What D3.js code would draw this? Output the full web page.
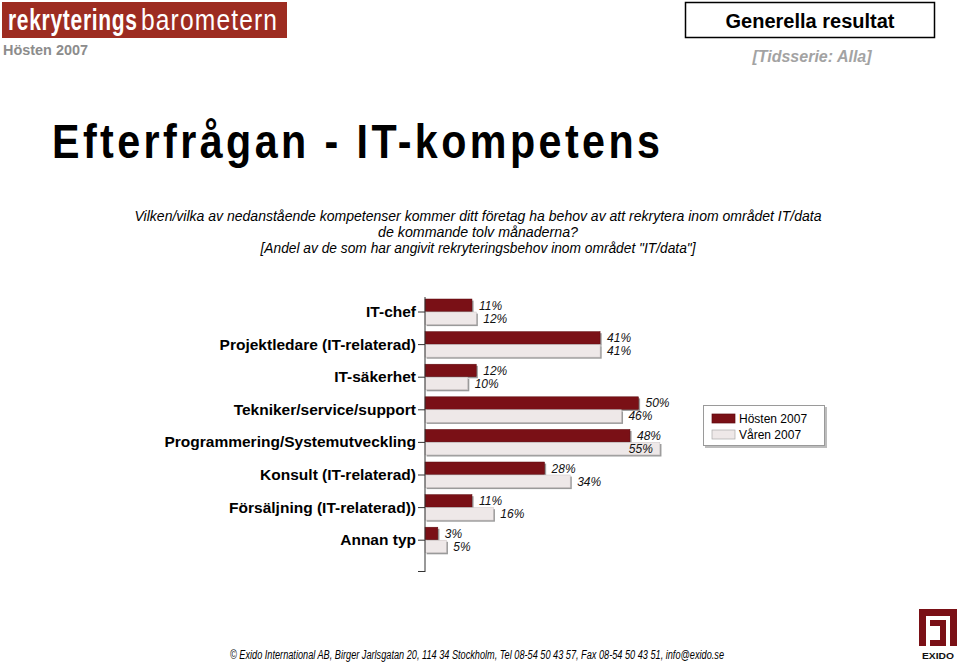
<!DOCTYPE html>
<html>
<head>
<meta charset="utf-8">
<script src="https://cdn.jsdelivr.net/npm/d3@7"></script>
<style>
  html, body { margin: 0; padding: 0; background: #fff; }
  svg { display: block; }
  text { font-family: "Liberation Sans", Arial, Helvetica, sans-serif; }
</style>
</head>
<body>
<svg id="chart" width="959" height="662"></svg>
<script>
const categories = [
  "IT-chef",
  "Projektledare (IT-relaterad)",
  "IT-säkerhet",
  "Tekniker/service/support",
  "Programmering/Systemutveckling",
  "Konsult (IT-relaterad)",
  "Försäljning (IT-relaterad))",
  "Annan typ"
];
const hosten2007 = [11, 41, 12, 50, 48, 28, 11, 3];
const varen2007 = [12, 41, 10, 46, 55, 34, 16, 5];
const seriesNames = ["Hösten 2007", "Våren 2007"];
const subtitleLines = [
  "Vilken/vilka av nedanstående kompetenser kommer ditt företag ha behov av att rekrytera inom området IT/data",
  "de kommande tolv månaderna?",
  "[Andel av de som har angivit rekryteringsbehov inom området \"IT/data\"]"
];

const svg = d3.select("#chart");
const darkC = "#7a1016", lightC = "#eee8e8", shadowC = "#9a9a9a";

function condensed(parent, x, y, width, sx, attrs, str) {
  const gg = parent.append("g").attr("transform", `translate(${x},${y}) scale(${sx},1)`);
  const t = gg.append("text").attr("x", 0).attr("y", 0)
    .attr("textLength", width / sx).attr("lengthAdjust", "spacing");
  Object.entries(attrs).forEach(([k, v]) => t.attr(k, v));
  t.text(str);
  return t;
}

// ---------- Header ----------
svg.append("rect").attr("x", 2).attr("y", 2).attr("width", 285).attr("height", 36).attr("fill", "#9d2c21");
condensed(svg, 8, 30, 129, 0.7, { "font-size": 30, "font-weight": "bold", "fill": "#fff" }, "rekryterings");
condensed(svg, 141, 30, 136, 0.82, { "font-size": 30, "fill": "#fff" }, "barometern");
svg.append("text").attr("x", 3).attr("y", 55).attr("fill", "#8c8c8c")
  .attr("font-size", 15).attr("font-weight", "bold")
  .attr("textLength", 85).attr("lengthAdjust", "spacingAndGlyphs").text("Hösten 2007");

svg.append("rect").attr("x", 685.5).attr("y", 2.5).attr("width", 249).attr("height", 35)
  .attr("fill", "#fff").attr("stroke", "#000").attr("stroke-width", 1.5);
svg.append("text").attr("x", 810).attr("y", 28).attr("text-anchor", "middle")
  .attr("font-size", 20).attr("font-weight", "bold").attr("fill", "#000")
  .text("Generella resultat");
svg.append("text").attr("x", 812).attr("y", 62).attr("text-anchor", "middle")
  .attr("font-size", 16).attr("font-weight", "bold").attr("font-style", "italic").attr("fill", "#a3a3a3")
  .text("[Tidsserie: Alla]");

// ---------- Title ----------
condensed(svg, 52, 158, 608, 0.86,
  { "font-size": 48, "font-weight": "bold", "fill": "#000" },
  "Efterfrågan - IT-kompetens");

// ---------- Subtitle ----------
const subWidths = [687, 200, 435];
const subY = [221, 237, 253];
subtitleLines.forEach((t, i) => {
  svg.append("text").attr("x", 478 - subWidths[i] / 2).attr("y", subY[i])
    .attr("font-size", 15).attr("font-style", "italic").attr("fill", "#000")
    .attr("textLength", subWidths[i]).attr("lengthAdjust", "spacingAndGlyphs")
    .text(t);
});

// ---------- Chart ----------
const x = d3.scaleLinear().domain([0, 100]).range([425, 852]);
const y = d3.scaleBand().domain(categories).range([295.7, 556.5]).padding(0);
const barH = 12.5, sh = 1.6;

const rows = categories.map((c, i) => ({ cat: c, vals: [hosten2007[i], varen2007[i]] }));

const g = svg.append("g");
rows.forEach(r => {
  const cy = y(r.cat) + y.bandwidth() / 2;
  r.vals.forEach((v, k) => {
    const top = k === 0 ? cy - barH - 0.5 : cy;
    const w = x(v) - x(0);
    g.append("rect").attr("x", x(0) + sh).attr("y", top + sh).attr("width", w).attr("height", barH)
      .attr("fill", shadowC);
    g.append("rect").attr("x", x(0)).attr("y", top).attr("width", w).attr("height", barH)
      .attr("fill", k === 0 ? darkC : lightC)
      .attr("stroke", k === 0 ? "#5e0a0f" : "#c9c2c2").attr("stroke-width", 0.5);
    const end = x(v);
    const inside = end + 7 > 655;
    g.append("text")
      .attr("x", inside ? end - 7 : end + 7)
      .attr("y", top + barH / 2)
      .attr("dy", "0.36em")
      .attr("text-anchor", inside ? "end" : "start")
      .attr("font-size", 12).attr("font-style", "italic").attr("fill", "#111")
      .text(v + "%");
  });
});

// Axis
const axis = d3.axisLeft(y).tickSize(7).tickPadding(2);
const ax = svg.append("g").attr("transform", `translate(${x(0)},0)`).call(axis);
ax.select(".domain").remove();
ax.selectAll(".tick line").attr("stroke", "#333");
ax.selectAll(".tick text")
  .attr("font-size", 15.5).attr("font-weight", "bold").attr("fill", "#000")
  .style("font-family", "'Liberation Sans', Arial, sans-serif");
svg.append("line").attr("x1", x(0)).attr("x2", x(0)).attr("y1", 297).attr("y2", 572)
  .attr("stroke", "#333").attr("stroke-width", 1);
svg.append("line").attr("x1", x(0) - 7).attr("x2", x(0)).attr("y1", 571.5).attr("y2", 571.5)
  .attr("stroke", "#333").attr("stroke-width", 1);

// ---------- Legend ----------
const lg = svg.append("g");
lg.append("rect").attr("x", 705).attr("y", 407).attr("width", 122).attr("height", 41).attr("fill", "#bdbdbd");
lg.append("rect").attr("x", 703.5).attr("y", 405.5).attr("width", 121).attr("height", 40)
  .attr("fill", "#fff").attr("stroke", "#9a9a9a").attr("stroke-width", 1);
seriesNames.forEach((n, i) => {
  const yy = 414 + i * 16;
  lg.append("rect").attr("x", 712).attr("y", yy).attr("width", 23).attr("height", 9)
    .attr("fill", i === 0 ? darkC : lightC).attr("stroke", i === 0 ? "#5e0a0f" : "#aaa").attr("stroke-width", 0.7);
  lg.append("text").attr("x", 739).attr("y", yy + 8.5).attr("font-size", 12).attr("fill", "#000").text(n);
});

// ---------- Footer ----------
svg.append("text").attr("x", 230).attr("y", 659)
  .attr("font-size", 12).attr("font-style", "italic").attr("fill", "#000")
  .attr("textLength", 494).attr("lengthAdjust", "spacingAndGlyphs")
  .text("© Exido International AB, Birger Jarlsgatan 20, 114 34 Stockholm, Tel 08-54 50 43 57, Fax 08-54 50 43 51, info@exido.se");

// Exido logo
const lgo = svg.append("g").attr("fill", "#7a1016");
lgo.append("path").attr("d",
  "M919,646 L919,609 L957,609 L957,646 L950,646 L950,616 L926,616 L926,646 Z");
lgo.append("path").attr("d",
  "M930,620 L946,620 L946,646 L930,646 L930,640 L940,640 L940,626 L930,626 Z");
svg.append("text").attr("x", 938).attr("y", 659).attr("text-anchor", "middle")
  .attr("font-size", 8.5).attr("font-weight", "bold").attr("fill", "#111")
  .attr("textLength", 32).attr("lengthAdjust", "spacingAndGlyphs").text("EXIDO");
</script>
</body>
</html>
